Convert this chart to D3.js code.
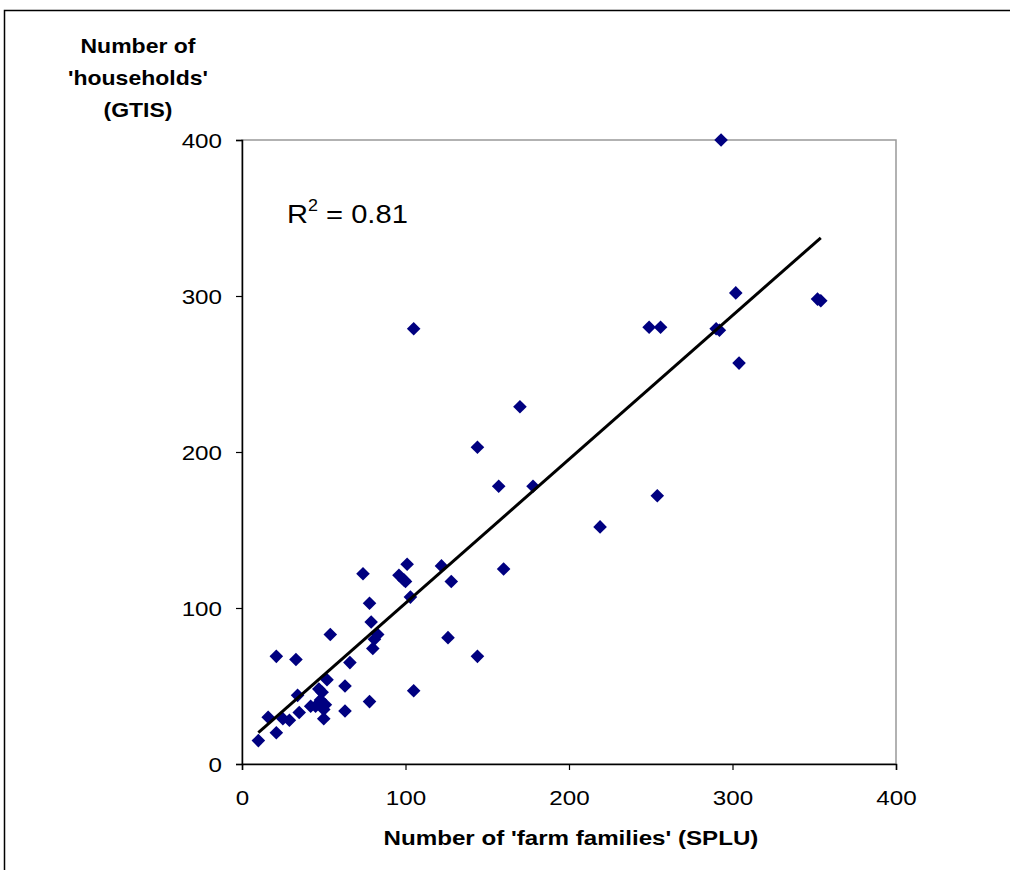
<!DOCTYPE html>
<html>
<head>
<meta charset="utf-8">
<script src="https://cdn.jsdelivr.net/npm/d3@7"></script>
<style>
  body { margin: 0; background: #fff; }
  svg { display: block; font-family: "Liberation Sans", Arial, sans-serif; }
</style>
</head>
<body>
<svg width="1010" height="870"></svg>
<script>
// SPLU farm families (x) vs GTIS households (y)
var farmFamilies = [10, 16, 21, 21, 25, 29, 33, 34, 35, 42, 45, 47, 48, 49, 50, 50, 51, 52, 54,
  63, 63, 66, 74, 78, 79, 78, 80, 81, 83, 96, 99, 101, 100, 103, 105, 105, 122, 126, 128,
  144, 144, 157, 160, 170, 178, 219, 249, 254, 256, 290, 292, 293, 302, 304, 352, 354];
var households = [15, 30, 20, 69, 29, 28, 67, 44, 33, 37, 37, 48, 41, 46, 35, 29, 38, 54, 83,
  50, 34, 65, 122, 103, 91, 40, 74, 80, 83, 121, 118, 128, 117, 107, 47, 279, 127, 81, 117,
  69, 203, 178, 125, 229, 178, 152, 280, 172, 280, 279, 278, 400, 302, 257, 298, 297];

// linear trendline
var trendSlope = 0.922, trendIntercept = 10.9;
var rSquared = "0.81";

var xTicks = [0, 100, 200, 300, 400];
var yTicks = [0, 100, 200, 300, 400];

// the original text is a bit wider than the font
var stretch = 1.18;

var svg = d3.select("svg"),
    margin = {top: 140, right: 114, bottom: 106, left: 242},
    width = 1010 - margin.left - margin.right,
    height = 870 - margin.top - margin.bottom,
    g = svg.append("g").attr("transform", "translate(" + margin.left + "," + margin.top + ")");

// outer chart frame (runs off the page to the right and bottom)
svg.append("path")
    .attr("d", "M4.5,872V10.5H1012")
    .attr("fill", "none")
    .attr("stroke", "#000")
    .attr("stroke-width", 1.5);

var x = d3.scaleLinear().domain([0, 400]).range([0, width]);
var y = d3.scaleLinear().domain([0, 400]).range([height, 0]);

// plot area border
g.append("rect")
    .attr("x", 0).attr("y", 0)
    .attr("width", width).attr("height", height)
    .attr("fill", "none")
    .attr("stroke", "#999")
    .attr("stroke-width", 1.5);

var xAxis = g.append("g")
    .attr("transform", "translate(0," + height + ")")
    .call(d3.axisBottom(x).tickValues(xTicks).tickSize(6));

var yAxis = g.append("g")
    .call(d3.axisLeft(y).tickValues(yTicks).tickSize(6));

[xAxis, yAxis].forEach(function(a) {
  a.select(".domain").attr("stroke", "#000").attr("stroke-width", 1.5);
  a.selectAll(".tick line").attr("stroke", "#000").attr("stroke-width", 1.2);
  a.selectAll(".tick text")
      .attr("font-family", "Liberation Sans, Arial, sans-serif")
      .attr("font-size", 20.5)
      .attr("fill", "#000");
});
xAxis.selectAll(".tick text")
    .attr("y", 0).attr("dy", 0)
    .attr("transform", "translate(0,41) scale(" + stretch + ",1)");
yAxis.selectAll(".tick text")
    .attr("x", 0).attr("dy", "0.35em")
    .attr("transform", "translate(-20,0) scale(" + stretch + ",1)");

// data points: diamonds
var diamond = "M0,-6.8L6.8,0L0,6.8L-6.8,0Z";
g.append("g")
  .selectAll("path")
  .data(farmFamilies.map(function(d, i) { return {x: d, y: households[i]}; }))
  .enter().append("path")
    .attr("d", diamond)
    .attr("transform", function(d) { return "translate(" + x(d.x) + "," + y(d.y) + ")"; })
    .attr("fill", "#000080");

// trendline over the range of the data
var xMin = d3.min(farmFamilies), xMax = d3.max(farmFamilies);
g.append("line")
    .attr("x1", x(xMin)).attr("y1", y(trendSlope * xMin + trendIntercept))
    .attr("x2", x(xMax)).attr("y2", y(trendSlope * xMax + trendIntercept))
    .attr("stroke", "#000")
    .attr("stroke-width", 3);

// R squared label
var r2 = g.append("text")
    .attr("transform", "translate(45,83) scale(1.12,1)")
    .attr("font-size", 26)
    .attr("fill", "#000");
r2.append("tspan").text("R");
r2.append("tspan").attr("font-size", 16).attr("dy", -12).text("2");
r2.append("tspan").attr("dy", 12).text(" = " + rSquared);

// axis titles
svg.append("text")
    .attr("transform", "translate(571,845) scale(1.15,1)")
    .attr("text-anchor", "middle")
    .attr("font-size", 21)
    .attr("font-weight", "bold")
    .text("Number of 'farm families' (SPLU)");

svg.append("g")
    .attr("transform", "translate(138,0) scale(1.15,1)")
  .append("text")
    .attr("text-anchor", "middle")
    .attr("font-size", 20)
    .attr("font-weight", "bold")
  .selectAll("tspan")
  .data(["Number of", "'households'", "(GTIS)"])
  .enter().append("tspan")
    .attr("x", 0)
    .attr("y", function(d, i) { return 53 + i * 32; })
    .text(function(d) { return d; });
</script>
</body>
</html>
